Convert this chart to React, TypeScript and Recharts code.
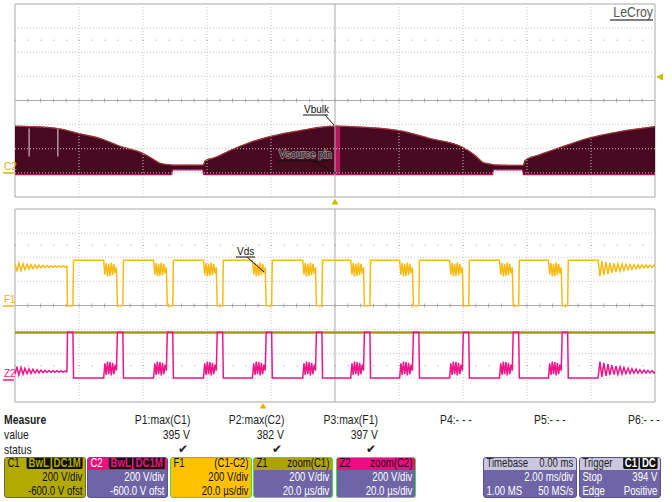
import React from 'react';
import {
  ComposedChart, Area, Line, XAxis, YAxis, ReferenceLine, ReferenceArea,
} from 'recharts';

// top panel: C1 (Vbulk) / C2 (Vsource pin), 2 ms/div, C2 offset -600 V
const OFFSET = -600;
const TOP_T = [
  0, 0.44, 1.34, 2, 2.66, 3.31, 4, 4.38, 4.53, 4.8, 4.9, 4.92, 5.87, 5.89, 5.94, 6.25, 6.72, 7.34,
  8.03, 8.91, 10, 10.47, 12, 12.97, 14, 14.38, 14.63, 14.78, 14.93, 14.95, 15.86, 15.88, 15.94,
  16.41, 17.03, 18, 18.91, 20,
];
const TOP_HI = [
  387, 384, 368, 326, 285, 219, 161, 103, 80, 68, 66, 65, 65, 66, 100, 127, 185, 252,
  305, 351, 387, 384, 351, 285, 210, 144, 86, 76, 68, 66, 62, 62, 103,
  152, 210, 293, 343, 384,
];
const TOP_LO = [
  -15, -15, -15, -15, -15, -15, -15, -15, -15, -15, -15, 25, 25, -15, -15, -15, -15, -15,
  -15, -15, -15, -15, -15, -15, -15, -15, -15, -15, -15, 25, 25, -15, -15,
  -15, -15, -15, -15, -15,
];

// bottom panel: zoom 20 us/div. C2 samples (V), C1 flat
const C1_ZOOM = 376;
const START_T = [0, 0.6, 1.2, 1.9, 2.5, 3.1, 3.8, 4.4, 5.0, 5.6, 6.3, 6.9, 7.5, 8.1, 8.8, 9.4, 10.0, 10.6, 11.3, 11.9, 12.5, 13.1, 13.8, 14.4, 15.0, 15.6, 16.1];
const START_V = [30, 92, 24, 86, 30, 78, 35, 74, 37, 70, 40, 67, 42, 64, 44, 62, 45, 61, 46, 60, 46, 59, 47, 58, 48, 57, 50];
const FIRST_T = [16.25, 16.4, 18.1, 18.3];
const FIRST_V = [52, 378, 378, 0];
const DROPS = [31.9, 47.5, 63.1, 78.4, 94.1, 109.1, 124.4, 140.0, 155.6, 170.9];
const RING_DT = [-4.2, -3.8, -3.4, -3.0, -2.6, -2.2, -1.8, -1.4, -1.0, -0.6, -0.2, 0.1, 1.8, 2.0];
const RING_V = [0, 120, 25, 135, 30, 130, 20, 125, 30, 110, 60, 378, 378, 0];
const END_T = [182.2, 182.8, 183.4, 184.0, 184.7, 185.3, 185.9, 186.5, 187.2, 187.8, 188.4, 189.1, 189.7, 190.3, 190.9, 191.6, 192.2, 192.8, 193.4, 194.1, 194.7, 195.3, 195.9, 196.6, 197.2, 197.8, 198.4, 199.1, 199.7, 200];
const END_V = [0, 135, 8, 125, 16, 115, 22, 106, 27, 98, 30, 92, 33, 86, 35, 80, 37, 76, 38, 72, 39, 68, 40, 65, 40, 62, 41, 60, 41, 52];

// measure table
const MEAS_NAMES = ['P1:max(C1)', 'P2:max(C2)', 'P3:max(F1)', 'P4:- - -', 'P5:- - -', 'P6:- - -'];
const MEAS_VALUES = ['395 V', '382 V', '397 V', '', '', ''];
const MEAS_STATUS = [true, true, true, false, false, false];

const topData = TOP_T.map((t, i) => ({
  t,
  band: [TOP_LO[i] + OFFSET, TOP_HI[i] + OFFSET],
  c1: TOP_HI[i] + OFFSET,
}));

const zoomPts: { t: number; v: number }[] = [];
START_T.forEach((t, i) => zoomPts.push({ t, v: START_V[i] }));
FIRST_T.forEach((t, i) => zoomPts.push({ t, v: FIRST_V[i] }));
DROPS.forEach((d) => RING_DT.forEach((dt, i) => zoomPts.push({ t: d + dt, v: RING_V[i] })));
END_T.forEach((t, i) => zoomPts.push({ t, v: END_V[i] }));
const zoomData = zoomPts.map((p) => ({
  t: p.t,
  z2: p.v + OFFSET,
  z1: C1_ZOOM + OFFSET,
  f1: C1_ZOOM - p.v,
}));

const FONT = "'Liberation Sans', Arial, sans-serif";
const NARROW = 0.8;
const GRID = '#c6c6c6';
const AXIS = '#a8a8a8';

function grid(xMax: number, dotsY: number[], k: string) {
  const els: React.ReactNode[] = [];
  for (let i = 1; i < 10; i++) {
    const x = (xMax * i) / 10;
    els.push(
      <ReferenceLine key={`${k}v${i}`} x={x} stroke={i === 5 ? AXIS : GRID}
        strokeDasharray={i === 5 ? undefined : '1 2'} />,
    );
  }
  for (let j = -3; j <= 3; j++) {
    els.push(
      <ReferenceLine key={`${k}h${j}`} y={j * 200} stroke={j === 0 ? AXIS : GRID}
        strokeDasharray={j === 0 ? undefined : '1 2'} />,
    );
  }
  for (let m = 1; m < 50; m++) {
    const x = (xMax * m) / 50;
    els.push(
      <ReferenceLine key={`${k}t${m}`} segment={[{ x, y: -16 }, { x, y: 16 }]} stroke={AXIS} />,
    );
  }
  dotsY.forEach((y) => els.push(
    <ReferenceLine key={`${k}d${y}`} y={y} stroke="#999" strokeDasharray="1 11.8" />,
  ));
  els.push(
    <ReferenceArea key={`${k}b`} x1={0} x2={xMax} y1={-800} y2={800} fill="none" stroke={AXIS} />,
  );
  return els;
}

// narrow text: the scope font is condensed
function N({ children, origin = 'left', bold = false }: { children: React.ReactNode; origin?: string; bold?: boolean }) {
  return (
    <span style={{ display: 'inline-block', whiteSpace: 'nowrap', transform: `scaleX(${NARROW})`, transformOrigin: origin, fontWeight: bold ? 'bold' : 'normal' }}>
      {children}
    </span>
  );
}

function Badge({ text, color }: { text: string; color: string }) {
  return (
    <span style={{ background: '#111', color, padding: '0 2px', borderRadius: 2, marginLeft: 2, fontWeight: 'bold', lineHeight: '12px', display: 'inline-block' }}>
      {text}
    </span>
  );
}

interface BoxProps {
  left: number; width: number; headBg: string; bodyBg: string; border: string;
  head: React.ReactNode; headRight: React.ReactNode; headColor: string; color: string;
  rows: [string, string][];
}

function Box({ left, width, headBg, bodyBg, border, head, headRight, headColor, color, rows }: BoxProps) {
  const inner = (width - 3) / NARROW;
  const row: React.CSSProperties = { height: 14, lineHeight: '14px', display: 'flex', justifyContent: 'space-between', padding: '0 2px 0 3px', whiteSpace: 'nowrap' };
  return (
    <div style={{ position: 'absolute', left, top: 457, width, height: 41, boxSizing: 'border-box', border: `1.5px solid ${border}`, borderRadius: 3, background: bodyBg, overflow: 'hidden', fontFamily: FONT, fontSize: 12 }}>
      <div style={{ height: 12, background: headBg }} />
      <div style={{ position: 'absolute', left: 0, top: -1, width: inner, transform: `scaleX(${NARROW})`, transformOrigin: 'left top' }}>
        <div style={{ ...row, height: 13, lineHeight: '13px', color: headColor }}>
          <span>{head}</span><span>{headRight}</span>
        </div>
        {rows.map(([l, r], i) => (
          <div key={i} style={{ ...row, color }}>
            <span>{l}</span><span>{r}</span>
          </div>
        ))}
      </div>
    </div>
  );
}

export default function App() {
  const PURPLE = '#6f65a6';
  const GREEN = '#3ee03e';
  const halo = { stroke: '#a08890', strokeWidth: 1.6, paintOrder: 'stroke' as const };
  return (
    <div style={{ position: 'relative', width: 672, height: 502, background: '#fff', overflow: 'hidden' }}>
      <style>{'body{margin:0}'}</style>

      <div style={{ position: 'absolute', left: 0, top: 0 }}>
        <ComposedChart width={672} height={202} data={topData} margin={{ top: 4, right: 17, bottom: 5, left: 15 }}>
          <XAxis type="number" dataKey="t" domain={[0, 20]} hide allowDataOverflow />
          <YAxis type="number" domain={[-800, 800]} hide allowDataOverflow />
          {grid(20, [500], 'a')}
          <Area dataKey="band" type="monotoneX" fill="#48081f" fillOpacity={1} stroke="#b8165f" strokeWidth={1.2} isAnimationActive={false} />
          <ReferenceArea x1={9.98} x2={10.16} y1={-615} y2={-213} fill="#b8145e" fillOpacity={1} stroke="none" />
          <ReferenceLine segment={[{ x: 0.44, y: -232 }, { x: 0.44, y: -464 }]} stroke="#e6dde2" />
          <ReferenceLine segment={[{ x: 1.34, y: -232 }, { x: 1.34, y: -464 }]} stroke="#e6dde2" />
          <Line dataKey="c1" type="monotoneX" stroke="#6f6a00" strokeWidth={1.2} strokeDasharray="1.5 2" dot={false} isAnimationActive={false} />
        </ComposedChart>
      </div>

      <div style={{ position: 'absolute', left: 0, top: 205 }}>
        <ComposedChart width={672} height={202} data={zoomData} margin={{ top: 4, right: 17, bottom: 5, left: 15 }}>
          <XAxis type="number" dataKey="t" domain={[0, 200]} hide allowDataOverflow />
          <YAxis type="number" domain={[-800, 800]} hide allowDataOverflow />
          {grid(200, [500, -500], 'b')}
          <Line dataKey="f1" type="linear" stroke="#f8bb14" strokeWidth={1.5} dot={false} isAnimationActive={false} />
          <Line dataKey="z1" type="linear" stroke="#a39d00" strokeWidth={2.5} dot={false} isAnimationActive={false} />
          <Line dataKey="z2" type="linear" stroke="#f0168a" strokeWidth={1.5} dot={false} isAnimationActive={false} />
        </ComposedChart>
      </div>

      <svg width={672} height={502} style={{ position: 'absolute', left: 0, top: 0, pointerEvents: 'none' }} fontFamily={FONT}>
        <text x={653} y={17} textAnchor="end" fontSize={14} fill="#555" transform={`translate(${653 * (1 - 0.88)},0) scale(0.88,1)`}>LeCroy</text>
        <line x1={610} y1={20} x2={653} y2={20} stroke="#555" strokeWidth={1.5} />
        <polygon points="331.5,204.5 338.5,204.5 335,198.5" fill="#c8c000" />
        <polygon points="656,77 663,73.5 663,80.5" fill="#c8c000" />
        <polygon points="259.5,408.5 266.5,408.5 263,403" fill="#f5b000" />

        <text x={4} y={170} fontSize={10} fill="#d0b000">C2</text>
        <line x1={3} y1={173} x2={14} y2={173} stroke="#d0b000" strokeWidth={1.5} />
        <text x={4} y={303} fontSize={10} fill="#f5b000">F1</text>
        <line x1={3} y1={306} x2={14} y2={306} stroke="#f5b000" strokeWidth={1.5} />
        <text x={4} y={377} fontSize={10} fill="#f0168a">Z2</text>
        <line x1={3} y1={380} x2={14} y2={380} stroke="#f0168a" strokeWidth={1.5} />

        <text x={304} y={113} fontSize={10} fill="#111">Vbulk</text>
        <line x1={303} y1={115} x2={328} y2={115} stroke="#111" />
        <line x1={325} y1={115} x2={334} y2={125} stroke="#111" />
        <text x={279} y={158} fontSize={10} fill="#111" {...halo}>Vsource pin</text>
        <line x1={278} y1={161} x2={328} y2={161} stroke="#111" />
        <line x1={313} y1={161} x2={336} y2={173} stroke="#111" />
        <text x={237} y={255} fontSize={10} fill="#111">Vds</text>
        <line x1={236} y1={257} x2={255} y2={257} stroke="#111" />
        <line x1={247} y1={257} x2={264} y2={272} stroke="#111" />
      </svg>

      <div style={{ position: 'absolute', left: 0, top: 412, width: 672, fontFamily: FONT, fontSize: 13, color: '#222', lineHeight: '15px' }}>
        <div style={{ position: 'absolute', left: 4, top: 0 }}><N bold>Measure</N></div>
        <div style={{ position: 'absolute', left: 4, top: 15 }}><N>value</N></div>
        <div style={{ position: 'absolute', left: 4, top: 30 }}><N>status</N></div>
        {MEAS_NAMES.map((name, i) => {
          const right = 672 - (190 + 94 * i);
          return (
            <React.Fragment key={name}>
              <div style={{ position: 'absolute', right, top: 0 }}><N origin="right">{name}</N></div>
              <div style={{ position: 'absolute', right, top: 15 }}><N origin="right">{MEAS_VALUES[i]}</N></div>
              {MEAS_STATUS[i] && <div style={{ position: 'absolute', right: right + 2, top: 30, fontSize: 12 }}>✔</div>}
            </React.Fragment>
          );
        })}
      </div>

      <Box left={4} width={82} headBg="#b3aa00" bodyBg="#b3aa00" border="#6f6b3a" headColor="#111" color="#111"
        head="C1" headRight={<><Badge text="BwL" color="#b3aa00" /><Badge text="DC1M" color="#b3aa00" /></>}
        rows={[['', '200 V/div'], ['', '-600.0 V ofst']]} />
      <Box left={87} width={81} headBg="#f0107c" bodyBg={PURPLE} border="#5a5290" headColor="#fff" color="#fff"
        head="C2" headRight={<><Badge text="BwL" color="#f0107c" /><Badge text="DC1M" color="#f0107c" /></>}
        rows={[['', '200 V/div'], ['', '-600.0 V ofst']]} />
      <Box left={170} width={82} headBg="#fdc100" bodyBg="#fdc100" border={GREEN} headColor="#111" color="#111"
        head="F1" headRight="(C1-C2)" rows={[['', '200 V/div'], ['', '20.0 µs/div']]} />
      <Box left={253} width={80} headBg="#aca400" bodyBg={PURPLE} border={GREEN} headColor="#111" color="#fff"
        head="Z1" headRight="zoom(C1)" rows={[['', '200 V/div'], ['', '20.0 µs/div']]} />
      <Box left={336} width={80} headBg="#f20a7e" bodyBg={PURPLE} border={GREEN} headColor="#111" color="#fff"
        head="Z2" headRight="zoom(C2)" rows={[['', '200 V/div'], ['', '20.0 µs/div']]} />
      <Box left={483} width={94} headBg="#cbc7de" bodyBg={PURPLE} border="#5a5290" headColor="#222" color="#fff"
        head="Timebase" headRight="0.00 ms" rows={[['', '2.00 ms/div'], ['1.00 MS', '50 MS/s']]} />
      <Box left={579} width={82} headBg="#cbc7de" bodyBg={PURPLE} border="#5a5290" headColor="#222" color="#fff"
        head="Trigger" headRight={<><Badge text="C1" color="#fff" /><Badge text="DC" color="#fff" /></>}
        rows={[['Stop', '394 V'], ['Edge', 'Positive']]} />
    </div>
  );
}
